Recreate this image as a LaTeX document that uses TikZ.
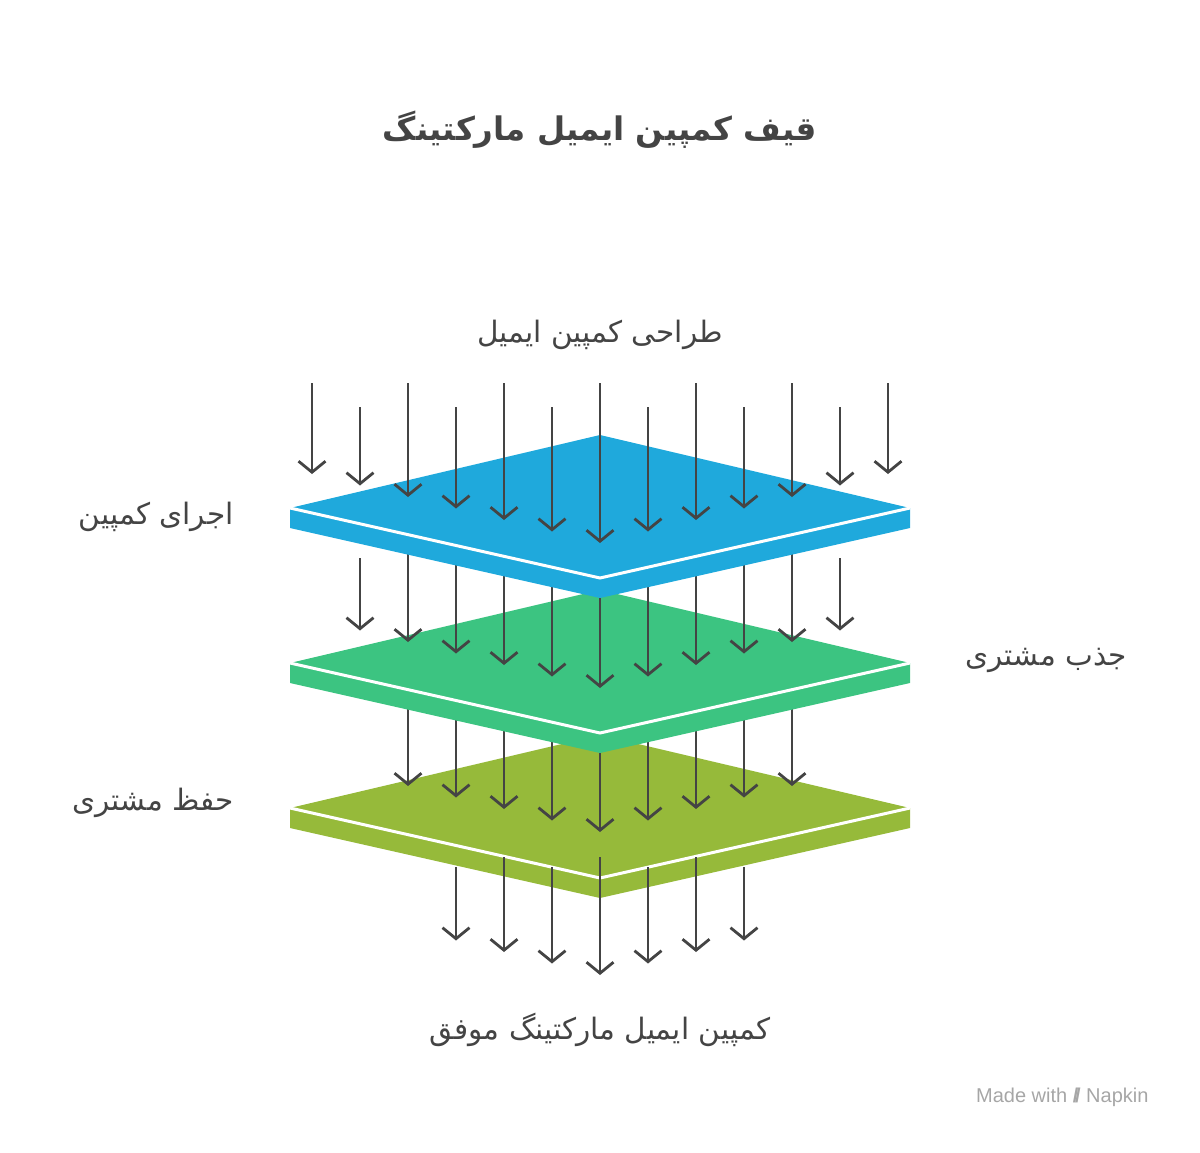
\documentclass[tikz,border=0pt]{standalone}
\usepackage{fontspec}
\setmainfont{Liberation Sans}
\newfontfamily\fa[Script=Arabic]{DejaVu Sans}
\TeXXeTstate=1
\newcommand{\fat}[1]{{\fa\beginR #1\endR}}
\usetikzlibrary{arrows.meta}
\definecolor{ag}{HTML}{444444}
\definecolor{blueT}{HTML}{1FA9DC}
\definecolor{blueS}{HTML}{1FA9DC}
\definecolor{greenT}{HTML}{3CC481}
\definecolor{greenS}{HTML}{3CC481}
\definecolor{oliveT}{HTML}{96BA3A}
\definecolor{oliveS}{HTML}{96BA3A}
\begin{document}
\begin{tikzpicture}[x=1pt,y=-1pt,
  arr/.style={draw=ag,line width=2.8pt,-{Straight Barb[length=11pt,width=27pt,line width=2.8pt]}},
  lbl/.style={font=\fontsize{29.5}{34}\selectfont,text=ag}]
\useasboundingbox (0,0) rectangle (1200,1152);
\newcommand{\plate}[3]{%
  \pgfmathsetmacro{\a}{#1}\pgfmathsetmacro{\m}{#1+73}\pgfmathsetmacro{\b}{#1+143}%
  \pgfmathsetmacro{\mm}{#1+93}\pgfmathsetmacro{\bb}{#1+163}%
  \fill[#3] (290,\m) -- (600,\b) -- (910,\m) -- (910,\mm) -- (600,\bb) -- (290,\mm) -- cycle;
  \fill[#2] (290,\m) -- (600,\a) -- (910,\m) -- (600,\b) -- cycle;
  \draw[white,line width=3pt] (290,\m) -- (600,\b) -- (910,\m);
}
\newcommand{\arrset}[4]{% kmax, start y, center end y, alternation factor
  \foreach \k in {-#1,...,#1}{%
    \pgfmathsetmacro{\xx}{600+48*\k}%
    \pgfmathsetmacro{\sy}{#2+24*mod(abs(\k),2)*#4}%
    \pgfmathsetmacro{\ey}{#3-11.5*abs(\k)}%
    \draw[arr] (\xx,\sy) -- (\xx,\ey);
  }%
}
\plate{735}{oliveT}{oliveS}
\arrset{4}{703}{832}{0.42}
\arrset{3}{857}{975}{0.42}
\plate{590}{greenT}{greenS}
\arrset{5}{548}{688}{0.42}
\plate{435}{blueT}{blueS}
\arrset{6}{383}{543}{1}
\node[font=\fontsize{32.5}{38}\selectfont,text=ag] (title) at (600,130) {\fat{\bfseries قیف کمپین ایمیل مارکتینگ}};
\node[lbl] (l1) at (600,335) {\fat{طراحی کمپین ایمیل}};
\node[lbl,anchor=east] (l2) at (237,517) {\fat{اجرای کمپین}};
\node[lbl,anchor=west] (l3) at (962,660) {\fat{جذب مشتری}};
\node[lbl,anchor=east] (l4) at (237,803) {\fat{حفظ مشتری}};
\node[lbl] (l5) at (600,1030) {\fat{کمپین ایمیل مارکتینگ موفق}};
\node[anchor=east,text=black!35,font=\fontsize{20}{24}\selectfont] (mw) at (1152,1097) {Made with \textbf{/\!/} Napkin};
\end{tikzpicture}
\end{document}
